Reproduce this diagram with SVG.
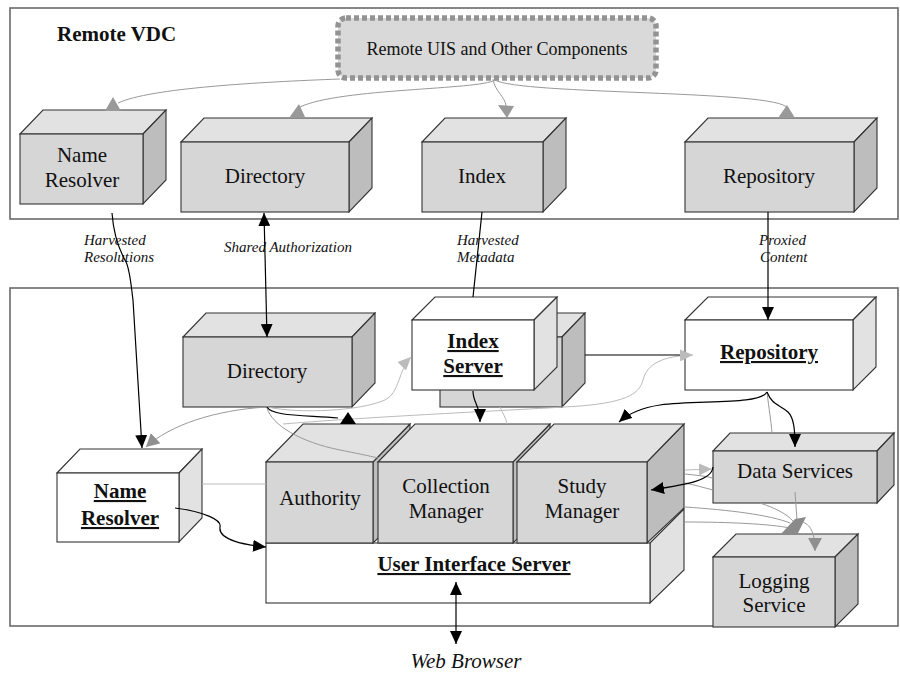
<svg xmlns="http://www.w3.org/2000/svg" width="900" height="675" viewBox="0 0 900 675">
  <style>
    .frame { fill: none; stroke: #6a6a6a; stroke-width: 1.6; }
    .front { fill: #d6d6d6; stroke: #333; stroke-width: 1.1; }
    .top { fill: #e2e2e2; stroke: #333; stroke-width: 1.1; }
    .side { fill: #bdbdbd; stroke: #333; stroke-width: 1.1; }
    .wfront { fill: #ffffff; stroke: #333; stroke-width: 1.1; }
    .wtop { fill: #ffffff; stroke: #333; stroke-width: 1.1; }
    .wside { fill: #e2e2e2; stroke: #333; stroke-width: 1.1; }
    text { font-family: "Liberation Serif", "Times New Roman", serif; fill: #111; }
    .lbl { font-size: 21px; text-anchor: middle; }
    .blbl { font-size: 21px; font-weight: bold; text-anchor: middle; text-decoration: underline; }
    .ital { font-size: 15px; font-style: italic; }
    .blk { fill: none; stroke: #000; stroke-width: 1.2; }
    .gry { fill: none; stroke: #999; stroke-width: 1; }
    .lgt { fill: none; stroke: #bbb; stroke-width: 1; }
    .gfill { fill: #999; }
    .dfill { fill: #8a8a8a; }
  </style>
  <defs>
    <marker id="ah" markerUnits="userSpaceOnUse" markerWidth="14" markerHeight="12" refX="13" refY="6" orient="auto-start-reverse">
      <path d="M0,0 L13,6 L0,12 z" fill="#000"/>
    </marker>
    <marker id="ahg" markerUnits="userSpaceOnUse" markerWidth="14" markerHeight="14" refX="13" refY="7" orient="auto">
      <path d="M0,0 L13,7 L0,14 z" fill="#8f8f8f"/>
    </marker>
    <marker id="ahl" markerUnits="userSpaceOnUse" markerWidth="14" markerHeight="12" refX="13" refY="6" orient="auto">
      <path d="M0,0 L13,6 L0,12 z" fill="#bbb"/>
    </marker>
  </defs>

  <!-- enclosing frames -->
  <rect class="frame" x="10" y="8" width="888" height="211"/>
  <rect class="frame" x="10" y="288" width="888" height="338"/>
  <text x="57" y="41" style="font-size:21px;font-weight:bold">Remote VDC</text>

  <!-- remote VDC components -->
  <g id="remote-uis">
    <rect x="338" y="18" width="318" height="60" rx="8" fill="#d9d9d9" stroke="#939393" stroke-width="5.5" stroke-dasharray="5,3"/>
    <text class="lbl" x="497" y="55" style="font-size:18px">Remote UIS and Other Components</text>
  </g>
  <g id="remote-name-resolver">
    <polygon class="top" points="20,134 43,110 166,110 143,134"/>
    <polygon class="side" points="143,134 166,110 166,180 143,204"/>
    <rect class="front" x="20" y="134" width="123" height="70"/>
    <text class="lbl" x="82" y="162">Name</text>
    <text class="lbl" x="82" y="187">Resolver</text>
  </g>
  <g id="remote-directory">
    <polygon class="top" points="181,142 204,118 372,118 349,142"/>
    <polygon class="side" points="349,142 372,118 372,188 349,212"/>
    <rect class="front" x="181" y="142" width="168" height="70"/>
    <text class="lbl" x="265" y="183">Directory</text>
  </g>
  <g id="remote-index">
    <polygon class="top" points="422,142 445,118 566,118 543,142"/>
    <polygon class="side" points="543,142 566,118 566,188 543,212"/>
    <rect class="front" x="422" y="142" width="121" height="70"/>
    <text class="lbl" x="482" y="183">Index</text>
  </g>
  <g id="remote-repository">
    <polygon class="top" points="685,142 708,118 877,118 854,142"/>
    <polygon class="side" points="854,142 877,118 877,188 854,212"/>
    <rect class="front" x="685" y="142" width="169" height="70"/>
    <text class="lbl" x="769" y="183">Repository</text>
  </g>

  <!-- labels on the links between VDCs -->
  <text class="ital" x="84" y="245">Harvested</text>
  <text class="ital" x="84" y="262">Resolutions</text>
  <text class="ital" x="224" y="252">Shared Authorization</text>
  <text class="ital" x="457" y="245">Harvested</text>
  <text class="ital" x="457" y="262">Metadata</text>
  <text class="ital" x="759" y="245">Proxied</text>
  <text class="ital" x="760" y="262">Content</text>

  <!-- local VDC components -->
  <g id="directory">
    <polygon class="top" points="183,337 206,313 375,313 352,337"/>
    <polygon class="side" points="352,337 375,313 375,383 352,407"/>
    <rect class="front" x="183" y="337" width="169" height="70"/>
    <text class="lbl" x="267" y="378">Directory</text>
  </g>
  <g id="index-server">
    <polygon class="top" points="440,337 463,313 585,313 562,337"/>
    <polygon class="side" points="562,337 585,313 585,383 562,407"/>
    <rect class="front" x="440" y="337" width="122" height="70"/>
    <polygon class="wtop" points="412,320 435,297 557,297 534,320"/>
    <polygon class="wside" points="534,320 557,297 557,367 534,390"/>
    <rect class="wfront" x="412" y="320" width="122" height="70"/>
    <text class="blbl" x="473" y="348">Index</text>
    <text class="blbl" x="473" y="373">Server</text>
  </g>
  <g id="repository">
    <polygon class="wtop" points="685,320 708,297 876,297 853,320"/>
    <polygon class="wside" points="853,320 876,297 876,367 853,390"/>
    <rect class="wfront" x="685" y="320" width="168" height="70"/>
    <text class="blbl" x="769" y="359">Repository</text>
  </g>
  <g id="name-resolver">
    <polygon class="wtop" points="57,473 80,449 202,449 179,473"/>
    <polygon class="wside" points="179,473 202,449 202,518 179,542"/>
    <rect class="wfront" x="57" y="473" width="122" height="69"/>
    <text class="blbl" x="120" y="498">Name</text>
    <text class="blbl" x="120" y="525">Resolver</text>
  </g>
  <g id="user-interface-server">
    <polygon class="wside" points="650,543 684,509 684,570 650,603"/>
    <rect class="wfront" x="266" y="543" width="384" height="60"/>
    <text class="blbl" x="474" y="571">User Interface Server</text>
  </g>
  <g id="authority">
    <polygon class="side" points="373,462 410,424 410,508 373,543"/>
    <polygon class="top" points="266,462 303,424 410,424 373,462"/>
    <rect class="front" x="266" y="462" width="107" height="81"/>
    <text class="lbl" x="320" y="505">Authority</text>
  </g>
  <g id="collection-manager">
    <polygon class="side" points="513,462 550,424 550,508 513,543"/>
    <polygon class="top" points="378,462 415,424 550,424 513,462"/>
    <rect class="front" x="378" y="462" width="135" height="81"/>
    <text class="lbl" x="446" y="493">Collection</text>
    <text class="lbl" x="446" y="518">Manager</text>
  </g>
  <g id="study-manager">
    <polygon class="side" points="647,462 684,424 684,508 647,543"/>
    <polygon class="top" points="517,462 554,424 684,424 647,462"/>
    <rect class="front" x="517" y="462" width="130" height="81"/>
    <text class="lbl" x="582" y="493">Study</text>
    <text class="lbl" x="582" y="518">Manager</text>
  </g>
  <g id="data-services">
    <polygon class="top" points="713,451 730,433 894,433 877,451"/>
    <polygon class="side" points="877,451 894,433 894,485 877,503"/>
    <rect class="front" x="713" y="451" width="164" height="52"/>
    <text class="lbl" x="795" y="478">Data Services</text>
  </g>
  <g id="logging-service">
    <polygon class="top" points="713,557 736,534 858,534 835,557"/>
    <polygon class="side" points="835,557 858,534 858,604 835,627"/>
    <rect class="front" x="713" y="557" width="122" height="70"/>
    <text class="lbl" x="774" y="588">Logging</text>
    <text class="lbl" x="774" y="612">Service</text>
  </g>

  <text x="466" y="668" style="font-size:21px;font-style:italic;text-anchor:middle">Web Browser</text>

  <!-- connectors -->
  <g id="connectors">
    <!-- remote UIS fan-out -->
    <path class="gry" d="M340,79 C260,82 150,88 118,103"/>
    <polygon class="gfill" points="105,111 121,111 113,97"/>
    <path class="gry" d="M495,80 C480,90 340,88 300,107"/>
    <polygon class="gfill" points="289,118 305,117 299,104"/>
    <path class="gry" d="M493,79 C495,92 505,96 506,106"/>
    <polygon class="gfill" points="498,105 514,106 507,118"/>
    <path class="gry" d="M495,80 C520,95 780,90 787,108"/>
    <polygon class="gfill" points="778,118 795,118 787,105"/>

    <!-- between the two VDCs -->
    <path class="blk" d="M112,213 C114,240 122,255 126,262 C130,270 131,285 133,300 L142,448" marker-end="url(#ah)"/>
    <path class="blk" d="M264,213 L267,337" marker-start="url(#ah)" marker-end="url(#ah)"/>
    <path class="blk" d="M482,212 L473,297"/>
    <path class="blk" d="M768,212 L768,320" marker-end="url(#ah)"/>

    <!-- local gray links -->
    <path class="gry" d="M267,407 C215,410 170,425 146,447" marker-end="url(#ahg)"/>
    <path class="lgt" d="M267,407 C300,414 360,411 385,400 C400,393 398,370 411,357" marker-end="url(#ahl)"/>
    <path class="lgt" d="M283,424 C380,416 520,410 580,406 C630,402 640,392 643,380 C647,364 662,356 693,355" marker-end="url(#ahl)"/>
    <path class="gry" d="M267,408 C272,425 300,442 340,450 C355,453 370,456 378,458"/>
    <path class="lgt" d="M500,407 C503,414 506,418 507,424"/>
    <path class="gry" d="M767,392 C769,410 771,420 772,433"/>
    <path class="lgt" d="M202,484 L266,484"/>
    <path class="lgt" d="M685,470 L712,469" marker-end="url(#ahl)"/>
    <path class="gry" d="M685,474 C695,475 705,476 713,478"/>
    <path class="gry" d="M685,483 C695,485 705,488 713,490"/>

    <!-- feeds into logging -->
    <path class="gry" d="M685,507 C730,510 770,515 790,523"/>
    <path class="gry" d="M685,522 C730,522 770,524 790,528"/>
    <path class="gry" d="M760,503 C775,508 787,514 793,521"/>
    <path class="gry" d="M795,492 L797,520"/>
    <polygon class="dfill" points="780,535 795,519 806,517 797,535"/>
    <path class="gry" d="M802,522 C810,524 815,532 815,551" marker-end="url(#ahg)"/>

    <!-- local black links -->
    <path class="blk" d="M267,407 C272,416 300,415 338,418"/>
    <polygon points="340,424 356,424 348,412" fill="#000"/>
    <path class="blk" d="M473,391 C473,403 480,405 480,422" marker-end="url(#ah)"/>
    <path class="blk" d="M767,392 C760,405 700,400 660,405 C640,408 628,414 619,422" marker-end="url(#ah)"/>
    <path class="blk" d="M767,392 C772,405 780,405 788,412 C794,418 795,430 795,447" marker-end="url(#ah)"/>
    <path class="blk" d="M713,467 C712,480 690,484 651,490" marker-end="url(#ah)"/>
    <path class="blk" d="M175,508 C205,512 222,520 220,527 C218,540 245,545 266,547" marker-end="url(#ah)"/>
    <path class="blk" d="M456,582 L456,644" marker-start="url(#ah)" marker-end="url(#ah)"/>
    <path class="blk" d="M585,355 L680,355"/>
  </g>
</svg>
